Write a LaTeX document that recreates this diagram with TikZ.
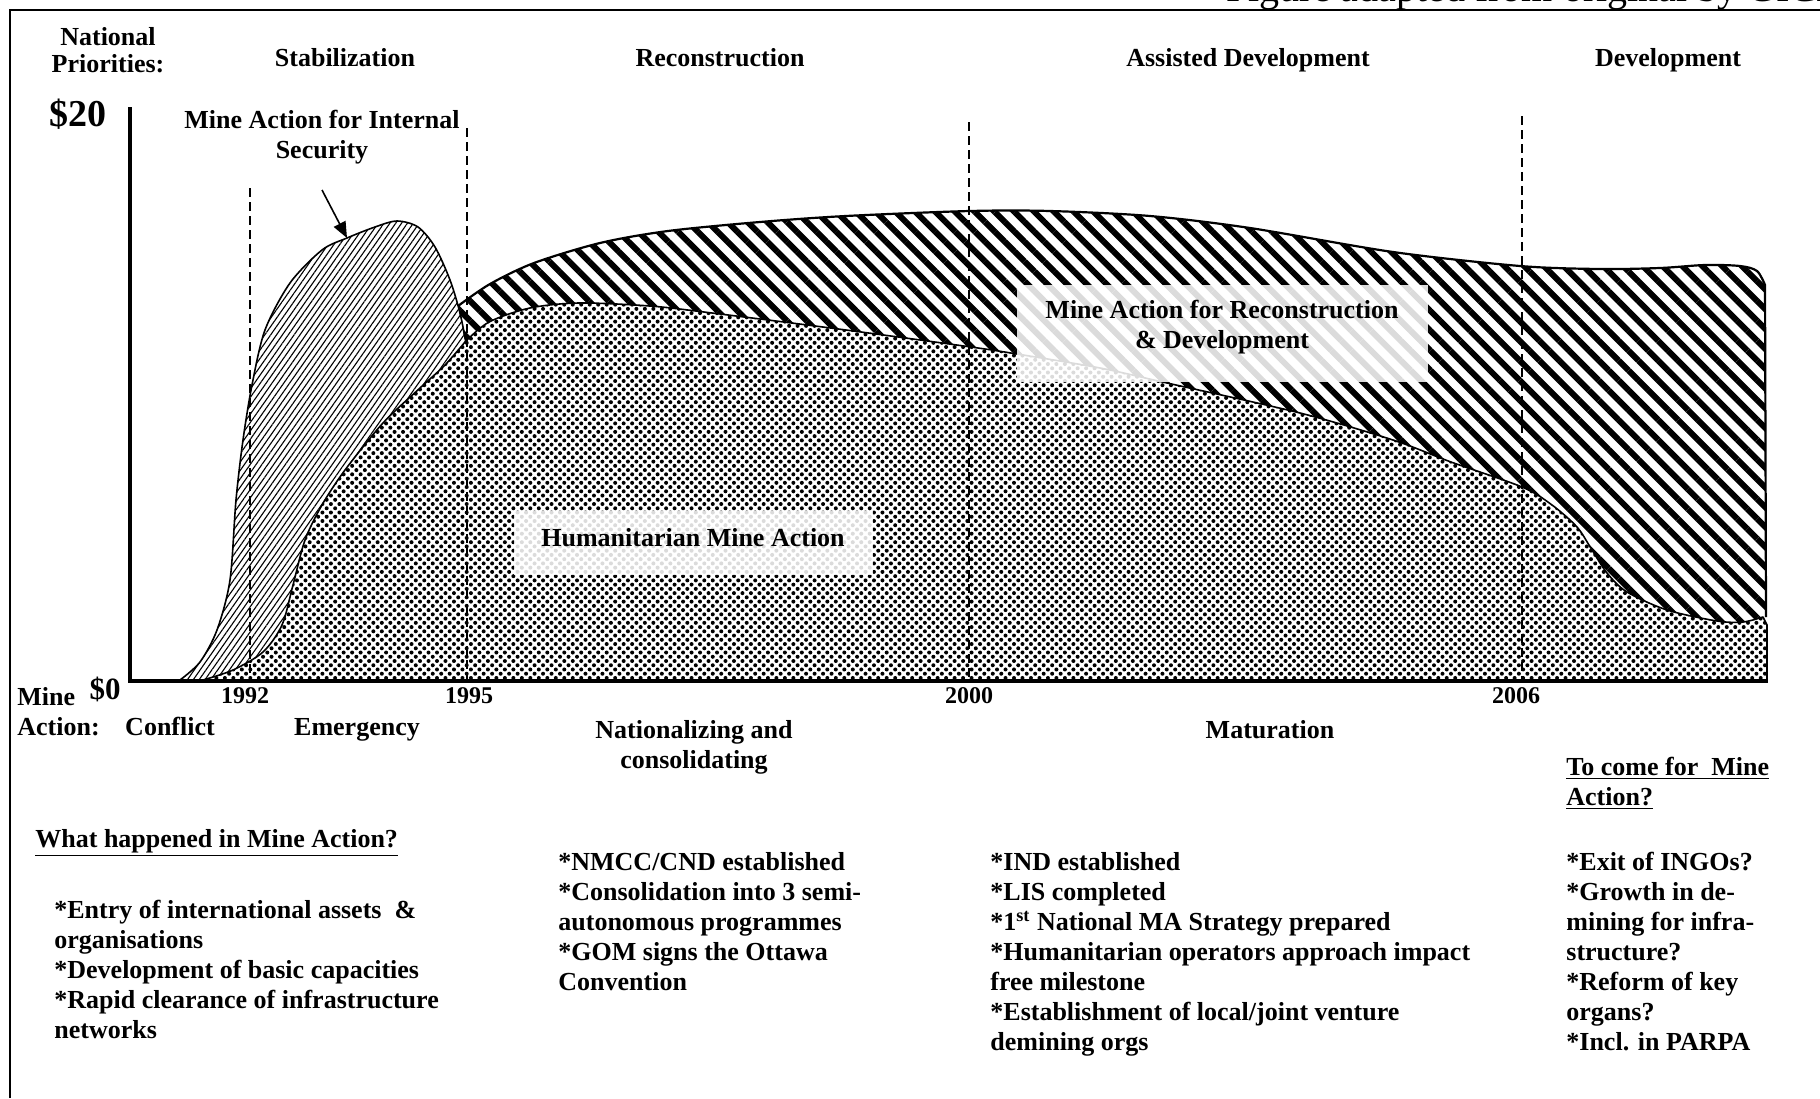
\documentclass[tikz,border=0pt]{standalone}
\usepackage{fontspec}
\setmainfont{Liberation Serif}
\usetikzlibrary{patterns.meta,arrows.meta}
\newcommand\lblock[2][15pt]{\vtop{\baselineskip=#1\lineskiplimit=-20pt\halign{##\hfil\cr#2\crcr}}}
\newcommand\cblock[2][15pt]{\vtop{\baselineskip=#1\lineskiplimit=-20pt\halign{\hfil##\hfil\cr#2\crcr}}}
\tikzset{
  lab/.style={font=\bfseries\fontsize{13}{15}\selectfont, inner sep=0pt},
  yr/.style={font=\bfseries\fontsize{12}{14}\selectfont, inner sep=0pt, anchor=base},
  money/.style={font=\bfseries\fontsize{15.5}{18}\selectfont, inner sep=0pt, anchor=base},
  divider/.style={dash pattern=on 4.5pt off 2.5pt, line width=0.6pt},
  outl/.style={line width=0.8pt, line join=round},
  outlB/.style={line width=1.1pt, line join=round},
  axisline/.style={line width=2pt},
  framel/.style={line width=1pt},
  glass/.style={fill=white, fill opacity=0.86},
  patA/.style={pattern={Lines[angle=55,distance=2.4pt,line width=0.55pt]}},
  patB/.style={pattern={Lines[angle=-45,distance=7pt,line width=3pt]}},
  patC/.style={pattern={Dots[angle=45,distance=3pt,radius=1pt]}},
}
\begin{document}
\begin{tikzpicture}[x=0.5pt,y=-0.5pt]
\useasboundingbox (0,0) rectangle (1820,1098);
% frame
\draw[framel] (10,1098) -- (10,10) -- (1820,10);
\begin{scope}
  \clip (0,0) rectangle (1820,1098);
  \node[font=\fontsize{20}{24}\selectfont, anchor=base west, inner sep=0pt] (credit) at (1226,1) {Figure adapted from original by GICHD};
\end{scope}
% ---- fills
\fill[patA] plot[smooth] coordinates {(180,680) (200,662) (217,630) (230,580) (236,500) (243,440) (252,385) (265,330) (290,283) (322,250) (347,238) (375,227) (397,221) (418,227) (435,247) (450,280) (460,313) (466,343)}
  -- plot[smooth] coordinates {(465,342) (445,365) (420,388) (383,423) (345,470) (322,505) (305,540) (293,585) (282,625) (263,652) (233,670) (203,680)} -- cycle;
\fill[patB] plot[smooth] coordinates {(458,306) (490,284) (534,263) (600,243) (668,231) (760,222) (846,216) (970,211) (1050,211) (1150,216) (1250,228) (1393,252) (1520,266) (1600,269) (1660,268) (1705,265) (1740,266) (1757,271) (1765,285)}
  -- (1766,617)
  -- plot[smooth] coordinates {(1763,617) (1743,622) (1717,621) (1667,610) (1627,592) (1607,573) (1592,550) (1577,527) (1552,505) (1522,487) (1451,462) (1393,440) (1300,413) (1167,383) (1100,368) (1017,354) (971,347) (846,330) (712,313) (650,306) (579,303) (530,308) (489,322) (465,342)} -- cycle;
\fill[patC] plot[smooth] coordinates {(203,680) (233,670) (263,652) (282,625) (293,585) (305,540) (322,505) (345,470) (383,423) (420,388) (445,365) (465,342)}
  -- plot[smooth] coordinates {(465,342) (489,322) (530,308) (579,303) (650,306) (712,313) (846,330) (971,347) (1017,354) (1100,368) (1167,383) (1300,413) (1393,440) (1451,462) (1522,487) (1552,505) (1577,527) (1592,550) (1607,573) (1627,592) (1667,610) (1717,621) (1743,622) (1763,617)}
  -- (1767,625) -- (1767,681) -- (203,681) -- cycle;
% ---- outlines
\draw[outl] plot[smooth] coordinates {(180,680) (200,662) (217,630) (230,580) (236,500) (243,440) (252,385) (265,330) (290,283) (322,250) (347,238) (375,227) (397,221) (418,227) (435,247) (450,280) (460,313) (466,343)};
\draw[outl] plot[smooth] coordinates {(203,680) (233,670) (263,652) (282,625) (293,585) (305,540) (322,505) (345,470) (383,423) (420,388) (445,365) (465,342)};
\draw[outl] plot[smooth] coordinates {(465,342) (489,322) (530,308) (579,303) (650,306) (712,313) (846,330) (971,347) (1017,354) (1100,368) (1167,383) (1300,413) (1393,440) (1451,462) (1522,487) (1552,505) (1577,527) (1592,550) (1607,573) (1627,592) (1667,610) (1717,621) (1743,622) (1763,617)} -- (1767,625) -- (1767,681);
\draw[outlB] plot[smooth] coordinates {(458,306) (490,284) (534,263) (600,243) (668,231) (760,222) (846,216) (970,211) (1050,211) (1150,216) (1250,228) (1393,252) (1520,266) (1600,269) (1660,268) (1705,265) (1740,266) (1757,271) (1765,285)} -- (1766,617);
% ---- year dividers
\draw[divider] (250,188) -- (250,680);
\draw[divider] (467,128) -- (467,680);
\draw[divider] (969,122) -- (969,680);
\draw[divider] (1522,116) -- (1522,680);
% ---- axes
\draw[axisline] (130,107) -- (130,681) -- (1768,681);
% ---- arrow
\coordinate (arrS) at (322,190);
\coordinate (arrE) at (347,238);
\draw[line width=0.8pt, -{Triangle[length=8pt,width=6.5pt]}] (arrS) -- (arrE);
% ---- translucent label boxes
\fill[glass] (1017,285) rectangle (1428,382);
\fill[glass] (514,511) rectangle (873,575);
% ---- texts
\node[lab, anchor=base] (natl) at (108,45) {\cblock[13.5pt]{National\cr Priorities:}};
\node[lab, anchor=base] (hStab) at (345,66) {Stabilization};
\node[lab, anchor=base] (hRec) at (720,66) {Reconstruction};
\node[lab, anchor=base] (hAss) at (1248,66) {Assisted Development};
\node[lab, anchor=base] (hDev) at (1668,66) {Development};
\node[money, font=\bfseries\fontsize{19}{22}\selectfont] (twenty) at (78,126) {\$20};
\node[money] (zero) at (105,699) {\$0};
\node[lab, anchor=base] (maSec) at (322,128) {\cblock[15pt]{Mine Action for Internal\cr Security}};
\node[lab, anchor=base] (maRD) at (1222,318) {\cblock{Mine Action for Reconstruction\cr \& Development}};
\node[lab, anchor=base] (maHum) at (693,546) {Humanitarian Mine Action};
\node[yr] (y92) at (245,703) {1992};
\node[yr] (y95) at (469,703) {1995};
\node[yr] (y00) at (969,703) {2000};
\node[yr] (y06) at (1516,703) {2006};
\node[lab, anchor=base west] (maLbl) at (17,705) {\lblock{Mine\cr Action:}};
\node[lab, anchor=base] (pConf) at (170,735) {Conflict};
\node[lab, anchor=base] (pEmer) at (357,735) {Emergency};
\node[lab, anchor=base] (pNat) at (694,738) {\cblock{Nationalizing and\cr consolidating}};
\node[lab, anchor=base] (pMat) at (1270,738) {Maturation};
\node[lab, anchor=base west] (whatH) at (35,847) {\underline{What happened in Mine Action?}};
\node[lab, anchor=base west] (listA) at (54,918) {\lblock{*Entry of international assets\ \ \&\cr organisations\cr *Development of basic capacities\cr *Rapid clearance of infrastructure\cr networks}};
\node[lab, anchor=base west] (listB) at (558,870) {\lblock{*NMCC/CND established\cr *Consolidation into 3 semi-\cr autonomous programmes\cr *GOM signs the Ottawa\cr Convention}};
\node[lab, anchor=base west] (listC) at (990,870) {\lblock{*IND established\cr *LIS completed\cr *1\textsuperscript{st} National MA Strategy prepared\cr *Humanitarian operators approach impact\cr free milestone\cr *Establishment of local/joint venture\cr demining orgs}};
\node[lab, anchor=base west] (toCome) at (1566,775) {\lblock{\underline{To come for\ \ Mine}\cr \underline{Action?}}};
\node[lab, anchor=base west] (listD) at (1566,870) {\lblock{*Exit of INGOs?\cr *Growth in de-\cr mining for infra-\cr structure?\cr *Reform of key\cr organs?\cr *Incl. in PARPA}};
\end{tikzpicture}
\end{document}
